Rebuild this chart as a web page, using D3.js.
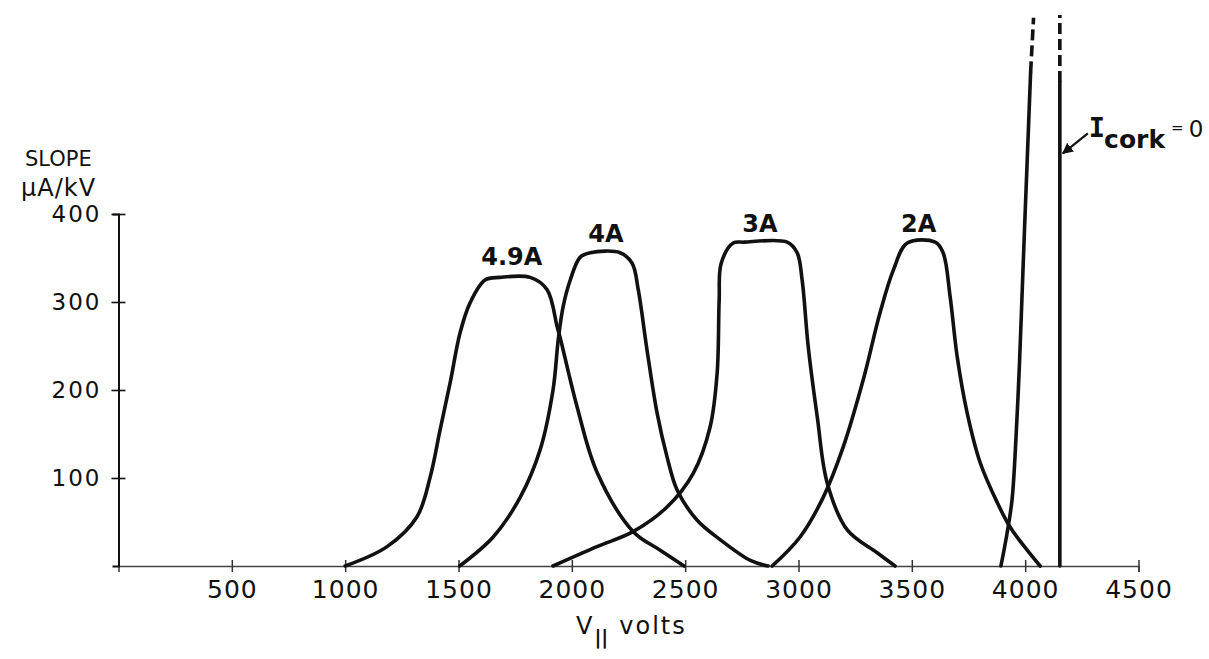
<!DOCTYPE html>
<meta charset="utf-8">
<head>
  <title>Slope vs V parallel</title>
</head>

<style>
body { margin: 0; background: #fff; }
text {
  font-family: "DejaVu Sans", sans-serif;
  fill: #111;
}
.curve {
  fill: none;
  stroke: #111;
  stroke-width: 3.6;
  stroke-linejoin: round;
  stroke-linecap: round;
}
.dash {
  fill: none;
  stroke: #111;
  stroke-width: 3.6;
  stroke-dasharray: 11, 5;
}
</style>

<body>
  <svg width="1209" height="659"></svg>

  <script src="https://d3js.org/d3.v7.min.js"></script>
  <script>
// tick values
var xTicks = [500, 1000, 1500, 2000, 2500, 3000, 3500, 4000, 4500];
var yTicks = [100, 200, 300, 400];

// curves, [V_parallel volts, slope uA/kV]
var curve49A = [[1000,0],[1185,22],[1317,56],[1375,101],[1419,155],[1463,208],[1507,265],[1551,299],
  [1617,325],[1683,328],[1816,328],[1891,314],[1935,272],[1948,260],[2023,181],[2112,106],
  [2271,39],[2390,18],[2495,0]];
var curve4A = [[1505,0],[1653,33],[1772,78],[1860,132],[1917,200],[1940,257],[1961,294],[1993,325],
  [2037,351],[2081,356],[2213,356],[2266,344],[2293,314],[2332,245],[2376,174],[2420,124],
  [2465,86],[2553,52],[2654,30],[2790,6],[2866,0]];
var curve3A = [[1917,0],[2111,22],[2270,39],[2420,67],[2535,105],[2610,158],[2641,219],[2650,302],
  [2659,344],[2712,367],[2760,368],[2950,368],[2994,356],[3016,325],[3043,249],[3083,169],
  [3127,94],[3215,41],[3347,15],[3426,0]];
var curve2A = [[2884,0],[3007,33],[3109,78],[3197,135],[3285,211],[3360,288],[3418,336],[3480,367],
  [3603,368],[3638,356],[3669,306],[3700,238],[3744,174],[3802,117],[3877,72],[3934,44],
  [4009,18],[4066,0]];
var curveSteep = [[3893,0],[3920,37],[3942,75],[3959,143],[3975,231],[3986,306],[3997,382],[4009,461],[4024,561]];
var curveSteepDash = [[4024,561],[4037,623]];
var corkV = 4153;
var corkSolid = [0, 550];
var corkDash = [550, 626];

var labels = [
  { text: "4.9A", v: 1735, s: 342 },
  { text: "4A",   v: 2150, s: 368 },
  { text: "3A",   v: 2830, s: 380 },
  { text: "2A",   v: 3530, s: 380 }
];

var svg = d3.select('svg');

var x = d3.scaleLinear().domain([0, 4500]).range([118.5, 1138.5]);
var y = d3.scaleLinear().domain([0, 400]).range([566, 214]);

// x axis
var gx = svg.append('g')
  .attr('transform', 'translate(0,' + y(0) + ')')
  .call(d3.axisBottom(x).tickValues(xTicks).tickFormat(d3.format('d')).tickSizeOuter(0).tickSize(6));
gx.select('.domain').attr('stroke', '#444').attr('stroke-width', 1.6);
gx.selectAll('.tick line').attr('y1', -6).attr('y2', 6).attr('stroke', '#333').attr('stroke-width', 1.5);
gx.selectAll('.tick text')
  .attr('y', 32).attr('dy', null)
  .style('font-size', '25px')
  .style('letter-spacing', '1px')
  .style('font-family', '"DejaVu Sans", sans-serif')
  .attr('fill', '#111');

// y axis
var gy = svg.append('g')
  .attr('transform', 'translate(' + x(0) + ',0)')
  .call(d3.axisLeft(y).tickValues(yTicks).tickSizeOuter(0).tickSize(6));
gy.select('.domain').attr('stroke', '#111').attr('stroke-width', 2);
gy.selectAll('.tick line').attr('x1', -7).attr('x2', 7).attr('stroke', '#111').attr('stroke-width', 1.6);
gy.selectAll('.tick text')
  .attr('x', -17)
  .style('font-size', '23px')
  .style('letter-spacing', '2px')
  .style('font-family', '"DejaVu Sans", sans-serif')
  .attr('fill', '#111');

// y axis title
svg.append('text').attr('x', 25).attr('y', 166)
  .style('font-size', '21px').text('SLOPE');
svg.append('text').attr('x', 21).attr('y', 196)
  .style('font-size', '24px').style('letter-spacing', '1px').text('\u03bcA/kV');

// x axis title
var xt = svg.append('text').attr('x', 576).attr('y', 634).style('font-size', '24px');
xt.append('tspan').text('V');
xt.append('tspan').attr('dy', 10).attr('dx', 2).style('font-size', '19px').style('font-weight', 'bold').text('||');
xt.append('tspan').attr('dy', -10).attr('dx', 11).style('letter-spacing', '2px').text('volts');

var line = d3.line()
  .x(function(d) { return x(d[0]); })
  .y(function(d) { return y(d[1]); })
  .curve(d3.curveCatmullRom.alpha(0.5));

[curve49A, curve4A, curve3A, curve2A, curveSteep].forEach(function(c) {
  svg.append('path').attr('class', 'curve').attr('d', line(c));
});
svg.append('path').attr('class', 'dash').attr('d', d3.line()
  .x(function(d) { return x(d[0]); })
  .y(function(d) { return y(d[1]); })(curveSteepDash));

// I_cork = 0 vertical line
svg.append('line').attr('class', 'curve')
  .attr('x1', x(corkV)).attr('x2', x(corkV))
  .attr('y1', y(corkSolid[0])).attr('y2', y(corkSolid[1]));
svg.append('line').attr('class', 'dash')
  .attr('x1', x(corkV)).attr('x2', x(corkV))
  .attr('y1', y(corkDash[0])).attr('y2', y(corkDash[1]));

// curve labels
svg.selectAll('.lab')
  .data(labels)
  .enter()
  .append('text')
  .attr('class', 'lab')
  .attr('x', function(d) { return x(d.v); })
  .attr('y', function(d) { return y(d.s); })
  .attr('text-anchor', 'middle')
  .style('font-size', '24px')
  .style('font-weight', 'bold')
  .text(function(d) { return d.text; });

// arrow + I_cork label
svg.append('defs').append('marker')
  .attr('id', 'arr')
  .attr('viewBox', '0 0 10 10')
  .attr('refX', 9).attr('refY', 5)
  .attr('markerWidth', 5).attr('markerHeight', 5)
  .attr('orient', 'auto')
  .append('path').attr('d', 'M0,0 L10,5 L0,10 z').attr('fill', '#111');

var ax = x(corkV), ay = y(469);
svg.append('line')
  .attr('x1', ax + 28).attr('y1', ay - 20)
  .attr('x2', ax + 3).attr('y2', ay)
  .attr('stroke', '#111').attr('stroke-width', 2.2)
  .attr('marker-end', 'url(#arr)');

var lt = svg.append('text').attr('x', ax + 29).attr('y', ay - 16);
lt.append('tspan').style('font-family', '"DejaVu Sans Mono", monospace').style('font-weight', 'bold').style('font-size', '27px').text('I');
lt.append('tspan').attr('dy', 11).attr('dx', -1).style('font-size', '25px').style('font-weight', 'bold').text('cork');
lt.append('tspan').attr('dy', -15).attr('dx', 6).style('font-size', '15px').text('=');
lt.append('tspan').attr('dy', 4).attr('dx', 5).style('font-size', '23px').text('0');

  </script>
</body>
</html>
